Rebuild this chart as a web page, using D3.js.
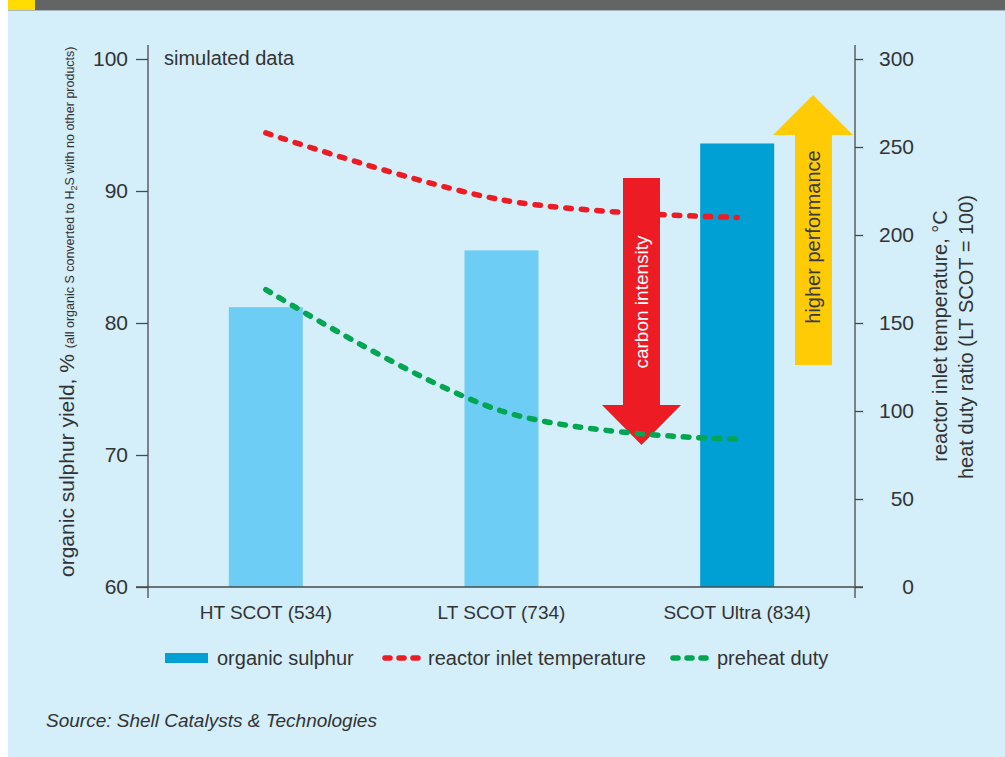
<!DOCTYPE html>
<html>
<head>
<meta charset="utf-8">
<script src="https://cdn.jsdelivr.net/npm/d3@7"></script>
<style>
  html, body { margin: 0; padding: 0; background: #ffffff; }
  svg { display: block; }
  text { font-family: "Liberation Sans", Arial, sans-serif; fill: #333333; }
</style>
</head>
<body>
<svg id="chart" width="1005" height="757"></svg>
<script>
// ---- data ----
const categories = ["HT SCOT (534)", "LT SCOT (734)", "SCOT Ultra (834)"];
const organicSulphur = [81.2, 85.5, 93.6];          // left axis, %
const reactorInletTemp = [258, 220, 210];           // right axis, °C
const preheatDuty = [169, 100, 84];                 // right axis, ratio
const leftTicks = [60, 70, 80, 90, 100];
const rightTicks = [0, 50, 100, 150, 200, 250, 300];
const barColors = ["#6dcdf4", "#6dcdf4", "#009fd4"];

// ---- layout ----
const svg = d3.select("#chart");
const W = 1005, H = 757;
const xL = 148, xR = 855, yTop = 59, yBot = 587;

// background
svg.append("rect").attr("x", 8).attr("y", 0).attr("width", W - 8).attr("height", H).attr("fill", "#d4eefa");
svg.append("rect").attr("x", 8).attr("y", 0).attr("width", W - 8).attr("height", 10).attr("fill", "#636466");
svg.append("rect").attr("x", 8).attr("y", 10).attr("width", W - 8).attr("height", 1).attr("fill", "#a8b7bf");
svg.append("rect").attr("x", 8).attr("y", 0).attr("width", 27).attr("height", 10).attr("fill", "#ffdd00");

// scales
const x = d3.scaleBand().domain(categories).range([xL, xR]).paddingInner(0.686).paddingOuter(0.343);
const yLeft = d3.scaleLinear().domain([60, 100]).range([yBot, yTop]);
const yRight = d3.scaleLinear().domain([0, 300]).range([yBot, yTop]);

// bars
svg.append("g").selectAll("rect").data(categories).join("rect")
  .attr("x", d => x(d))
  .attr("width", x.bandwidth())
  .attr("y", (d, i) => yLeft(organicSulphur[i]))
  .attr("height", (d, i) => yBot - yLeft(organicSulphur[i]))
  .attr("fill", (d, i) => barColors[i]);

// arrows (annotations)
svg.append("polygon")
  .attr("points", [[623,178],[660,178],[660,405],[681,405],[641.5,445],[602,405],[623,405]].map(p => p.join(",")).join(" "))
  .attr("fill", "#ed1c24");
svg.append("polygon")
  .attr("points", [[795,365],[832,365],[832,135],[853,135],[813,95],[773,135],[795,135]].map(p => p.join(",")).join(" "))
  .attr("fill", "#ffcb05");
svg.append("text").attr("transform", "translate(648,302) rotate(-90)")
  .attr("text-anchor", "middle").style("font-size", "19px").style("fill", "#ffffff")
  .text("carbon intensity");
svg.append("text").attr("transform", "translate(820,237) rotate(-90)")
  .attr("text-anchor", "middle").style("font-size", "20px").style("fill", "#3a3a3a")
  .text("higher performance");

// lines
const cx = d => x(d) + x.bandwidth() / 2;
const lineGen = vals => d3.line()
  .x(d => cx(d))
  .y((d, i) => yRight(vals[i]))
  .curve(d3.curveCardinal.tension(0))(categories);

svg.append("path").attr("d", lineGen(reactorInletTemp))
  .attr("fill", "none").attr("stroke", "#ed1c24").attr("stroke-width", 5.5)
  .attr("stroke-linecap", "round").attr("stroke-dasharray", "5.5,10");
svg.append("path").attr("d", lineGen(preheatDuty))
  .attr("fill", "none").attr("stroke", "#00a651").attr("stroke-width", 5.5)
  .attr("stroke-linecap", "round").attr("stroke-dasharray", "5.5,10");

// axes
const axisColor = "#4a4a4a";
const ax = svg.append("g").attr("stroke", axisColor).attr("stroke-width", 1.3);
ax.append("line").attr("x1", xL).attr("x2", xL).attr("y1", 45).attr("y2", 598);
ax.append("line").attr("x1", xR).attr("x2", xR).attr("y1", 45).attr("y2", 598);
ax.append("line").attr("x1", 136).attr("x2", 863).attr("y1", yBot).attr("y2", yBot);

const lg = d3.axisLeft(yLeft).tickValues(leftTicks).tickSize(12).tickPadding(8);
const gL = svg.append("g").attr("transform", `translate(${xL},0)`).call(lg);
gL.select(".domain").remove();
gL.selectAll(".tick line").attr("stroke", axisColor).attr("stroke-width", 1.3);
gL.selectAll(".tick text").style("font-size", "21px").style("fill", "#333").style("font-family", "Liberation Sans, Arial, sans-serif");

const rg = d3.axisRight(yRight).tickValues(rightTicks).tickSize(8).tickPadding(51);
const gR = svg.append("g").attr("transform", `translate(${xR},0)`).call(rg);
gR.select(".domain").remove();
gR.selectAll(".tick line").attr("stroke", axisColor).attr("stroke-width", 1.3);
gR.selectAll(".tick text").attr("text-anchor", "end")
  .style("font-size", "21px").style("fill", "#333").style("font-family", "Liberation Sans, Arial, sans-serif");

// category labels
svg.append("g").selectAll("text").data(categories).join("text")
  .attr("x", d => cx(d)).attr("y", 619)
  .attr("text-anchor", "middle").style("font-size", "19px")
  .text(d => d);

// annotation
svg.append("text").attr("x", 164).attr("y", 65).style("font-size", "20px").text("simulated data");

// left axis title
const lt = svg.append("text").attr("transform", "translate(74,577) rotate(-90)");
lt.append("tspan").style("font-size", "21px").text("organic sulphur yield, % ");
lt.append("tspan").style("font-size", "12.5px").text("(all organic S converted to H");
lt.append("tspan").style("font-size", "9px").attr("dy", 3).text("2");
lt.append("tspan").style("font-size", "12.5px").attr("dy", -3).text("S with no other products)");

// right axis titles
svg.append("text").attr("transform", "translate(947,336) rotate(-90)")
  .attr("text-anchor", "middle").style("font-size", "20px").text("reactor inlet temperature, °C");
svg.append("text").attr("transform", "translate(973,337) rotate(-90)")
  .attr("text-anchor", "middle").style("font-size", "20px").text("heat duty ratio (LT SCOT = 100)");

// legend
const legY = 658;
svg.append("rect").attr("x", 165).attr("y", legY - 5).attr("width", 43).attr("height", 10).attr("fill", "#009fd4");
svg.append("text").attr("x", 217).attr("y", legY + 7).style("font-size", "20px").text("organic sulphur");
svg.append("line").attr("x1", 385).attr("x2", 418).attr("y1", legY).attr("y2", legY)
  .attr("stroke", "#ed1c24").attr("stroke-width", 5.5).attr("stroke-linecap", "round").attr("stroke-dasharray", "5,9");
svg.append("text").attr("x", 428).attr("y", legY + 7).style("font-size", "20px").text("reactor inlet temperature");
svg.append("line").attr("x1", 673).attr("x2", 706).attr("y1", legY).attr("y2", legY)
  .attr("stroke", "#00a651").attr("stroke-width", 5.5).attr("stroke-linecap", "round").attr("stroke-dasharray", "5,9");
svg.append("text").attr("x", 717).attr("y", legY + 7).style("font-size", "20px").text("preheat duty");

// source
svg.append("text").attr("x", 46).attr("y", 727).style("font-size", "19px").style("font-style", "italic")
  .text("Source: Shell Catalysts & Technologies");
</script>
</body>
</html>
